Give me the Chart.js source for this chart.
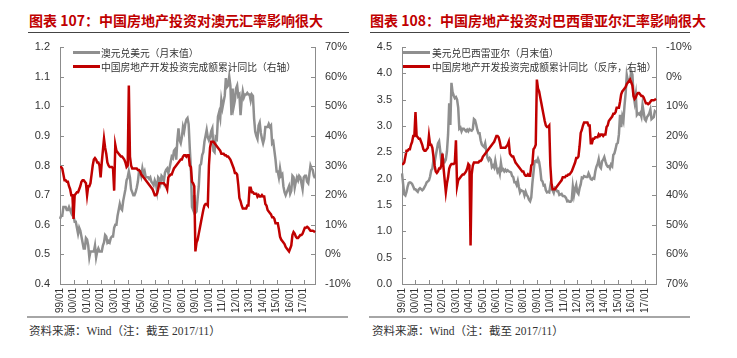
<!DOCTYPE html>
<html>
<head>
<meta charset="utf-8">
<script src="https://cdn.jsdelivr.net/npm/chart.js@4.4.0/dist/chart.umd.min.js"></script>
<style>
  body { margin: 0; width: 737px; height: 358px; background: #fff; position: relative; overflow: hidden; }
  .title { position: absolute; top: 11px; font: bold 14px "Noto Sans CJK SC", sans-serif; color: #c00000; white-space: nowrap; line-height: 18px; }
  .rule { position: absolute; top: 32px; height: 1px; background: #444; }
  .foot { position: absolute; top: 316px; height: 2px; background: #a6a6a6; }
  .src { position: absolute; top: 324px; font: 11.5px "Liberation Serif", "Noto Sans CJK SC", serif; color: #333; white-space: nowrap; line-height: 15px; }
  .lg-line { position: absolute; height: 3px; width: 27px; }
  .lg-text { position: absolute; font: 9.75px "Noto Sans CJK SC", sans-serif; color: #333; white-space: nowrap; line-height: 12px; }
  canvas { position: absolute; top: 0; }
</style>
</head>
<body>
<div class="title" style="left:29px">图表 107：中国房地产投资对澳元汇率影响很大</div>
<div class="rule" style="left:28px; width:321px"></div>
<div class="title" style="left:370px">图表 108：中国房地产投资对巴西雷亚尔汇率影响很大</div>
<div class="rule" style="left:370px; width:320px"></div>

<canvas id="c1" width="360" height="320" style="left:0"></canvas>
<canvas id="c2" width="377" height="320" style="left:360px"></canvas>

<div class="lg-line" style="left:73px; top:51px; background:#8f8f8f"></div>
<div class="lg-text" style="left:101px; top:46.5px">澳元兑美元（月末值）</div>
<div class="lg-line" style="left:73px; top:65px; background:#c00000"></div>
<div class="lg-text" style="left:101px; top:60.5px">中国房地产开发投资完成额累计同比（右轴）</div>

<div class="lg-line" style="left:403px; top:51px; background:#8f8f8f"></div>
<div class="lg-text" style="left:432px; top:46.5px">美元兑巴西雷亚尔（月末值）</div>
<div class="lg-line" style="left:403px; top:65px; background:#c00000"></div>
<div class="lg-text" style="left:432px; top:60.5px">中国房地产开发投资完成额累计同比（反序，右轴）</div>

<div class="foot" style="left:27px; width:321px"></div>
<div class="foot" style="left:369px; width:321px"></div>
<div class="src" style="left:29px">资料来源：Wind（注：截至 2017/11）</div>
<div class="src" style="left:372px">资料来源：Wind（注：截至 2017/11）</div>

<script>
// months 1999/01 .. 2017/11
const months = [];
for (let y = 1999; y <= 2017; y++) {
  for (let m = 1; m <= 12; m++) {
    if (y === 2017 && m > 11) break;
    months.push(String(y % 100).padStart(2, '0') + '/' + String(m).padStart(2, '0'));
  }
}

// 澳元兑美元（月末值）
const audUsd = [
  0.62, 0.63, 0.63, 0.66, 0.66, 0.66, 0.65, 0.65, 0.66, 0.65, 0.64, 0.655,
  0.63, 0.61, 0.61, 0.59, 0.57, 0.59, 0.58, 0.56, 0.54, 0.52, 0.52, 0.555,
  0.55, 0.53, 0.49, 0.51, 0.51, 0.51, 0.51, 0.53, 0.49, 0.51, 0.52, 0.51,
  0.51, 0.51, 0.53, 0.54, 0.565, 0.56, 0.54, 0.545, 0.54, 0.555, 0.56, 0.56,
  0.59, 0.60, 0.60, 0.63, 0.65, 0.67, 0.655, 0.65, 0.68, 0.70, 0.72, 0.75,
  0.76, 0.78, 0.76, 0.72, 0.71, 0.70, 0.70, 0.71, 0.725, 0.745, 0.78, 0.78,
  0.765, 0.79, 0.77, 0.78, 0.76, 0.76, 0.76, 0.755, 0.76, 0.745, 0.74, 0.733,
  0.75, 0.74, 0.715, 0.76, 0.755, 0.74, 0.765, 0.76, 0.745, 0.775, 0.785, 0.79,
  0.775, 0.79, 0.81, 0.83, 0.825, 0.85, 0.855, 0.82, 0.885, 0.925, 0.885, 0.875,
  0.895, 0.93, 0.915, 0.94, 0.955, 0.96, 0.94, 0.86, 0.79, 0.66, 0.65, 0.70,
  0.64, 0.645, 0.69, 0.73, 0.80, 0.805, 0.835, 0.845, 0.88, 0.90, 0.92, 0.895,
  0.885, 0.895, 0.915, 0.925, 0.85, 0.845, 0.895, 0.89, 0.965, 0.98, 0.96, 1.02,
  0.995, 1.015, 1.035, 1.095, 1.065, 1.07, 1.10, 1.07, 0.97, 1.06, 1.00, 1.02,
  1.06, 1.07, 1.035, 1.04, 0.97, 1.02, 1.05, 1.03, 1.04, 1.04, 1.045, 1.04,
  1.04, 1.02, 1.04, 1.035, 0.96, 0.915, 0.90, 0.89, 0.935, 0.945, 0.91, 0.89,
  0.875, 0.89, 0.93, 0.93, 0.93, 0.94, 0.93, 0.935, 0.875, 0.88, 0.85, 0.82,
  0.78, 0.78, 0.76, 0.79, 0.765, 0.77, 0.73, 0.71, 0.70, 0.71, 0.72, 0.73,
  0.705, 0.715, 0.765, 0.76, 0.725, 0.745, 0.76, 0.75, 0.765, 0.76, 0.74, 0.72,
  0.76, 0.765, 0.765, 0.745, 0.74, 0.77, 0.80, 0.79, 0.785, 0.765, 0.757
];

// 美元兑巴西雷亚尔（月末值）
const usdBrl = [
  2.10, 1.90, 1.70, 1.68, 1.75, 1.85, 1.92, 1.93, 1.92, 1.90, 1.85, 1.80,
  1.80, 1.77, 1.75, 1.80, 1.82, 1.80, 1.78, 1.80, 1.84, 1.88, 1.93, 1.95,
  1.97, 2.04, 2.16, 2.19, 2.36, 2.30, 2.43, 2.55, 2.67, 2.71, 2.53, 2.32,
  2.42, 2.35, 2.32, 2.36, 2.52, 2.84, 3.43, 3.02, 3.82, 3.64, 3.58, 3.53,
  3.55, 3.50, 3.35, 2.95, 2.97, 2.90, 2.95, 2.95, 2.92, 2.90, 2.93, 2.90,
  2.94, 2.92, 2.91, 2.94, 3.13, 3.11, 3.03, 2.93, 2.86, 2.86, 2.73, 2.65,
  2.62, 2.60, 2.67, 2.53, 2.40, 2.35, 2.39, 2.36, 2.22, 2.25, 2.21, 2.34,
  2.22, 2.13, 2.17, 2.09, 2.30, 2.16, 2.18, 2.14, 2.17, 2.14, 2.16, 2.14,
  2.13, 2.12, 2.05, 2.03, 1.93, 1.93, 1.88, 1.96, 1.84, 1.74, 1.78, 1.77,
  1.76, 1.68, 1.75, 1.69, 1.66, 1.60, 1.57, 1.64, 1.91, 2.12, 2.33, 2.34,
  2.32, 2.38, 2.32, 2.18, 1.97, 1.95, 1.87, 1.88, 1.78, 1.74, 1.75, 1.74,
  1.87, 1.81, 1.78, 1.73, 1.82, 1.80, 1.76, 1.76, 1.69, 1.70, 1.71, 1.67,
  1.67, 1.66, 1.63, 1.57, 1.58, 1.56, 1.56, 1.59, 1.85, 1.69, 1.81, 1.88,
  1.74, 1.71, 1.82, 1.89, 2.02, 2.01, 2.05, 2.04, 2.03, 2.03, 2.10, 2.05,
  1.99, 1.98, 2.01, 2.00, 2.14, 2.23, 2.28, 2.37, 2.23, 2.20, 2.33, 2.36,
  2.41, 2.33, 2.26, 2.23, 2.24, 2.20, 2.27, 2.24, 2.45, 2.48, 2.56, 2.66,
  2.68, 2.84, 3.21, 2.98, 3.18, 3.10, 3.39, 3.63, 3.97, 3.86, 3.86, 3.90,
  4.04, 3.98, 3.59, 3.45, 3.59, 3.21, 3.24, 3.22, 3.25, 3.18, 3.40, 3.26,
  3.13, 3.10, 3.17, 3.20, 3.24, 3.31, 3.13, 3.15, 3.17, 3.28, 3.26
];

// 中国房地产开发投资完成额累计同比（%）
const reInvYoy = [
  29.5, 29.5, 29, 27, 25, 25, 24.5, 24.5, 23, 22, 20, 20,
  12, 20, 20.5, 21, 21, 22, 23, 24.5, 25, 25, 24.5, 24,
  20, 23, 23, 24, 27, 30, 32, 32.5, 32, 31, 31, 30,
  26, 31, 35, 39, 36, 34, 31, 30, 29.5, 29.5, 29.5, 29,
  21.5, 37, 35, 34.5, 34, 33.5, 33, 33, 32.5, 32, 31, 29.5,
  30, 57, 33, 30, 29, 29, 29, 29, 29, 28.5, 28.5, 28,
  27, 26.5, 26, 25.5, 25, 24.5, 24, 23.5, 23, 22.5, 22, 21,
  20, 20, 20.5, 22, 24, 24, 24, 24, 24, 23.5, 23, 22,
  26, 26.5, 27, 27, 28, 29, 29.5, 30, 30.5, 31, 31.5, 32,
  32, 33, 33.5, 33.5, 33, 33.5, 33.5, 30, 29.5, 24.5, 24, 23,
  1, 4, 5, 7, 9, 11, 13, 15, 16.5, 17, 17, 16.5,
  30, 36, 38, 38, 38, 37.5, 37, 36.5, 36, 35.5, 35, 34,
  34, 34, 33.5, 33.5, 33, 33, 32.5, 32, 31, 30, 29, 27.5,
  27.5, 27, 23.5, 19, 18, 16.5, 15.5, 15.5, 15.5, 15.5, 16.5, 16.5,
  22.5, 22.5, 21, 21, 20.5, 20.5, 20.5, 19.5, 20, 19.5, 19.5, 20,
  19.5, 19.5, 17, 16.5, 15, 14.5, 14, 13.5, 12.5, 12.5, 12, 10.5,
  10.5, 10.5, 8.5, 6, 5, 4.5, 4, 3.5, 2.5, 2, 1.5, 1,
  2, 3, 6.5, 7.5, 7, 6, 5.5, 5.5, 6, 6.5, 6.5, 7,
  8, 9, 9, 9.3, 9, 8.5, 8, 8, 8, 7.8, 7.5
];

const GRAY = '#8f8f8f';
const RED = '#c00000';
const AXIS = '#8c8c8c';
const tickFont = { family: '"Liberation Sans", Arial, sans-serif', size: 11 };

// small inward tick marks on the three axes
const innerTicks = {
  id: 'innerTicks',
  afterDraw(chart) {
    const ctx = chart.ctx, a = chart.chartArea;
    const { x, y, y1 } = chart.scales;
    ctx.save();
    ctx.strokeStyle = AXIS;
    ctx.lineWidth = 1;
    ctx.beginPath();
    y.ticks.forEach((t, i) => {
      const p = Math.round(y.getPixelForTick(i)) + 0.5;
      ctx.moveTo(a.left, p); ctx.lineTo(a.left + 4, p);
    });
    y1.ticks.forEach((t, i) => {
      const p = Math.round(y1.getPixelForTick(i)) + 0.5;
      ctx.moveTo(a.right - 4, p); ctx.lineTo(a.right, p);
    });
    months.forEach((m, i) => {
      if (m.endsWith('/01')) {
        const p = Math.round(x.getPixelForValue(i)) + 0.5;
        ctx.moveTo(p, a.bottom); ctx.lineTo(p, a.bottom - 4);
      }
    });
    ctx.stroke();
    ctx.restore();
  }
};

function makeChart(id, grayData, leftMin, leftMax, leftStep, leftW, rightW, reversed) {
  return new Chart(document.getElementById(id), {
    type: 'line',
    data: {
      labels: months,
      datasets: [
        { data: grayData, yAxisID: 'y', borderColor: GRAY, borderWidth: 2.5, pointRadius: 0, order: 1 },
        { data: reInvYoy, yAxisID: 'y1', borderColor: RED, borderWidth: 2.5, pointRadius: 0, order: 0 }
      ]
    },
    options: {
      responsive: false,
      animation: false,
      devicePixelRatio: 1,
      layout: { padding: { top: 47, left: 0, right: 0, bottom: 0 } },
      plugins: { legend: { display: false }, tooltip: { enabled: false } },
      scales: {
        x: {
          grid: { display: false, drawTicks: false },
          border: { display: true, color: AXIS },
          ticks: {
            autoSkip: false, minRotation: 90, maxRotation: 90, padding: 4,
            color: '#333', font: { family: tickFont.family, size: 10 },
            callback: (v, i) => months[i].endsWith('/01') ? months[i] : ''
          },
          afterFit: s => { s.height = 36; }
        },
        y: {
          position: 'left', min: leftMin, max: leftMax,
          grid: { display: false, drawTicks: false },
          border: { display: true, color: AXIS },
          ticks: { stepSize: leftStep, padding: 10, color: '#333', font: tickFont, callback: v => v.toFixed(1) },
          afterFit: s => { s.width = leftW; }
        },
        y1: {
          position: 'right', min: -10, max: 70, reverse: reversed,
          grid: { display: false, drawTicks: false },
          border: { display: true, color: AXIS },
          ticks: { stepSize: 10, padding: 10, color: '#333', font: tickFont, callback: v => Math.round(v) + '%' },
          afterFit: s => { s.width = rightW; }
        }
      }
    },
    plugins: [innerTicks]
  });
}

makeChart('c1', audUsd, 0.4, 1.2, 0.1, 60, 45, false);
makeChart('c2', usdBrl, 0, 4.5, 0.5, 42, 81, true);
</script>
</body>
</html>
